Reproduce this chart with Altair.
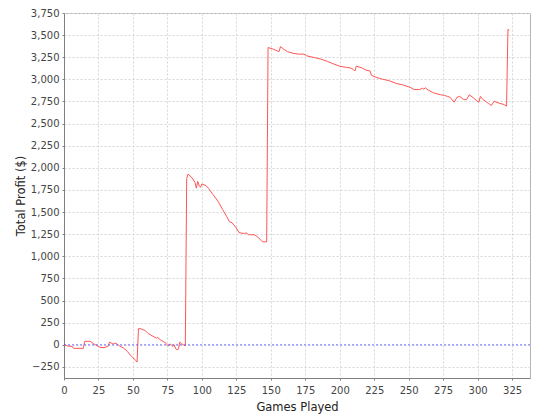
import altair as alt
import pandas as pd

games = [0, 2, 3, 6, 7, 14, 15, 19, 22, 23, 26, 29, 32, 33, 35, 36, 37, 38, 40, 43,
         45, 46, 48, 50, 52, 53, 54, 56, 59, 61, 63, 66, 67, 68, 70, 72, 74, 75, 76, 77,
         78, 79, 80, 81, 82, 83, 84, 85, 86, 88, 89, 90, 93, 95, 96, 97, 98, 99, 100, 103,
         105, 108, 112, 115, 118, 120, 122, 125, 127, 131, 132, 134, 138, 140, 143, 144, 147, 148, 152, 155,
         156, 157, 159, 162, 166, 170, 174, 176, 181, 186, 191, 195, 200, 205, 208, 210, 211, 212, 216, 219,
         222, 223, 227, 231, 236, 241, 246, 251, 254, 258, 260, 261, 262, 264, 268, 273, 276, 278, 280, 283,
         285, 287, 290, 292, 294, 297, 300, 301, 302, 304, 308, 310, 312, 315, 319, 321, 322, 323]

profit = [0, -10, -15, -18, -40, -40, 40, 40, 5, 0, -28, -32, -15, 30, 15, 10, 20, 15, -10, -35,
          -60, -75, -115, -145, -175, -195, 184, 180, 160, 128, 110, 84, 75, 84, 55, 37, 18, -5, -11, 11,
          -5, -18, 0, -45, -55, -48, 30, 15, 5, -11, 1880, 1930, 1885, 1835, 1770, 1846, 1800, 1780, 1817, 1800,
          1765, 1700, 1615, 1530, 1450, 1390, 1380, 1320, 1266, 1258, 1266, 1244, 1244, 1225, 1180, 1165, 1163, 3360, 3340, 3320,
          3314, 3370, 3345, 3314, 3295, 3285, 3285, 3266, 3248, 3230, 3204, 3178, 3148, 3135, 3128, 3110, 3094, 3150, 3130, 3105,
          3094, 3045, 3020, 3002, 2984, 2954, 2936, 2910, 2885, 2885, 2900, 2890, 2905, 2881, 2848, 2826, 2819, 2808, 2797, 2742,
          2797, 2808, 2771, 2771, 2826, 2790, 2750, 2742, 2808, 2771, 2727, 2705, 2753, 2734, 2716, 2698, 3565, 3555]

x_ticks = list(range(0, 326, 25))
y_ticks = list(range(-250, 3751, 250))

df = pd.DataFrame({"games": games, "profit": profit})

x_scale = alt.Scale(domain=[0, 338], nice=False, zero=False)
y_scale = alt.Scale(domain=[-375, 3750], nice=False, zero=False)

font = "DejaVu Sans"

y_axis = alt.Axis(title="Total Profit ($)", values=y_ticks, format=",d",
                  labelOverlap=False, labelFlush=False, labelBound=False)

line = alt.Chart(df).mark_line(color="#ff5555", strokeWidth=1, interpolate="linear").encode(
    x=alt.X("games:Q", scale=x_scale,
            axis=alt.Axis(title="Games Played", values=x_ticks, format="d",
                          labelOverlap=False, labelFlush=False, labelBound=False)),
    y=alt.Y("profit:Q", scale=y_scale, axis=y_axis),
)

zero = alt.Chart(pd.DataFrame({"profit": [0]})).mark_rule(
    color="#4a4aff", strokeWidth=1, strokeDash=[2, 2], opacity=0.75
).encode(y=alt.Y("profit:Q", scale=y_scale, axis=y_axis))

chart = alt.layer(line, zero).properties(
    width=466, height=365,
    padding={"left": 7, "top": 0, "right": 1, "bottom": 3},
    background="white",
).configure_view(
    stroke="#b4b4b4", strokeWidth=1, fill="white"
).configure_axis(
    labelFont=font, labelFontSize=10, labelColor="#444444",
    titleFont=font, titleFontSize=11.5, titleFontWeight="normal", titleColor="#222222",
    domainColor="#808080", tickColor="#808080", tickSize=2,
    gridColor="#d6d6d6", gridDash=[2, 2], gridWidth=1,
).configure_axisY(
    titlePadding=4, labelPadding=3,
).configure_axisX(
    titlePadding=6, labelPadding=5,
)

chart.save("out.html", embed_options={"renderer": "svg", "actions": False})
